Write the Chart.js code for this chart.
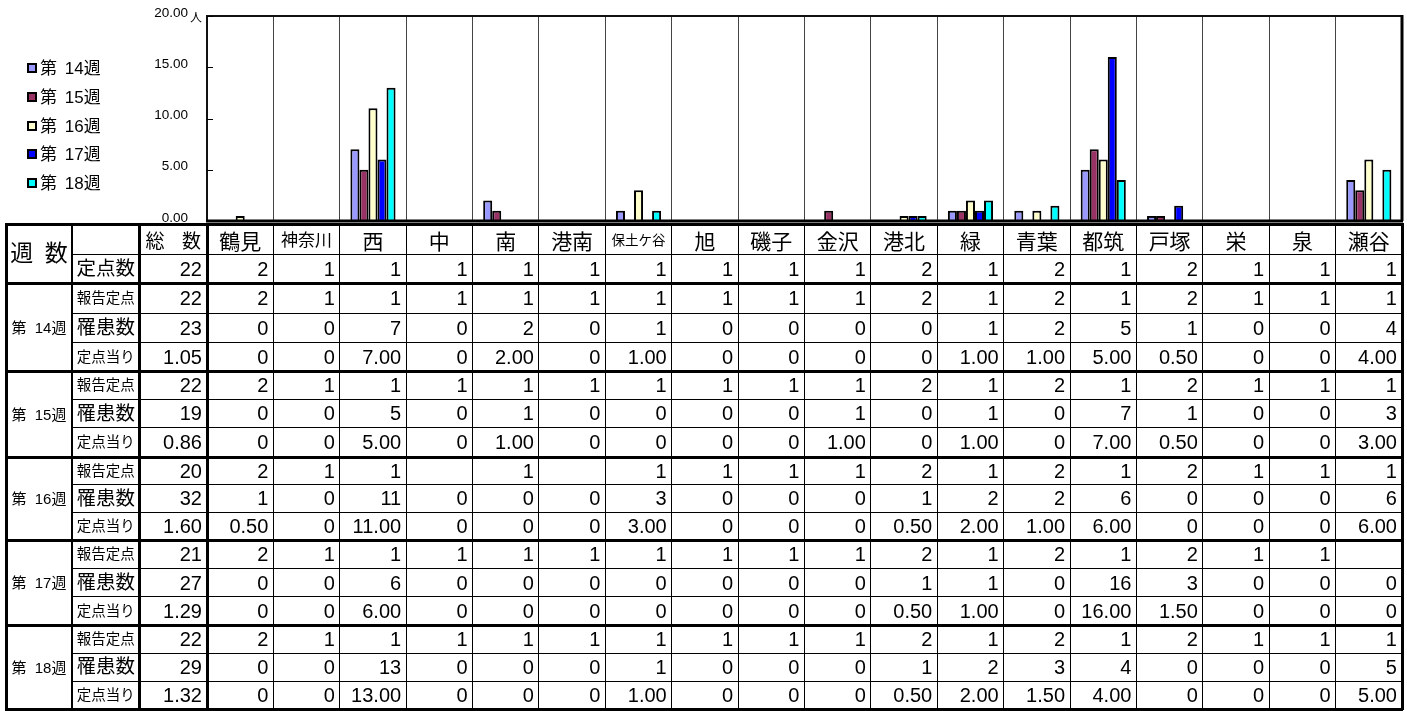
<!DOCTYPE html>
<html lang="ja">
<head>
<meta charset="utf-8">
<title>定点当り患者数</title>
<script src="https://cdn.jsdelivr.net/npm/chart.js@4.4.1/dist/chart.umd.min.js"></script>
<style>
  html, body { margin: 0; padding: 0; background: #fff; }
  body {
    width: 1407px; height: 711px; position: relative; overflow: hidden;
    font-family: "Liberation Sans", "Noto Sans CJK JP", sans-serif; color: #000;
  }
  #chart { position: absolute; left: 0; top: 0; }
  .cell {
    position: absolute; box-sizing: border-box; display: flex;
    align-items: center; justify-content: center; white-space: nowrap; line-height: 1;
  }
  .num { justify-content: flex-end; padding-right: 5px; font-size: 20px; font-family: "Liberation Sans", sans-serif; }
  .dist { font-size: 21px; padding-top: 4px; }
  .dist-m { font-size: 17px; padding-top: 3px; }
  .dist-s { font-size: 13.5px; padding-top: 3px; }
  .total-h { font-size: 19px; word-spacing: 12px; padding-top: 4px; }
  .weeks-h { font-size: 23px; word-spacing: 5px; }
  .row-l { font-size: 19.5px; }
  .row-s { font-size: 14.5px; }
  .week-l { font-size: 15px; word-spacing: 4px; }
  .line { position: absolute; background: #000; }
  .legend-item { position: absolute; left: 27px; height: 20px; display: flex; align-items: center; }
  .legend-box { width: 10px; height: 10px; box-sizing: border-box; border: 2px solid #000; margin-right: 3px; }
  .legend-text { font-size: 17px; word-spacing: 3px; line-height: 1; }
</style>
</head>
<body>
<canvas id="chart" width="1407" height="232"></canvas>
<div id="legend"></div>
<div id="table"></div>
<script>
// 区名（カテゴリ）
const districts = ['鶴見','神奈川','西','中','南','港南','保土ケ谷','旭','磯子','金沢','港北','緑','青葉','都筑','戸塚','栄','泉','瀬谷'];
// 週
const weeks = ['第 14週','第 15週','第 16週','第 17週','第 18週'];
const seriesColors = ['#9999FF','#993366','#FFFFCC','#0000FF','#00FFFF'];
// 縦軸目盛り
const yTicks = [0, 5, 10, 15, 20];

// 定点数
const siteTotal = 22;
const siteCount = [2,1,1,1,1,1,1,1,1,1,2,1,2,1,2,1,1,1];

// 総数列（報告定点・罹患数・定点当り）
const totalReport = [22, 22, 20, 21, 22];
const totalCases  = [23, 19, 32, 27, 29];
const totalRate   = [1.05, 0.86, 1.60, 1.29, 1.32];

// 第14週
const reportW14 = [2,1,1,1,1,1,1,1,1,1,2,1,2,1,2,1,1,1];
const casesW14  = [0,0,7,0,2,0,1,0,0,0,0,1,2,5,1,0,0,4];
const rateW14   = [0,0,7,0,2,0,1,0,0,0,0,1,1,5,0.5,0,0,4];
// 第15週
const reportW15 = [2,1,1,1,1,1,1,1,1,1,2,1,2,1,2,1,1,1];
const casesW15  = [0,0,5,0,1,0,0,0,0,1,0,1,0,7,1,0,0,3];
const rateW15   = [0,0,5,0,1,0,0,0,0,1,0,1,0,7,0.5,0,0,3];
// 第16週
const reportW16 = [2,1,1,null,1,null,1,1,1,1,2,1,2,1,2,1,1,1];
const casesW16  = [1,0,11,0,0,0,3,0,0,0,1,2,2,6,0,0,0,6];
const rateW16   = [0.5,0,11,0,0,0,3,0,0,0,0.5,2,1,6,0,0,0,6];
// 第17週
const reportW17 = [2,1,1,1,1,1,1,1,1,1,2,1,2,1,2,1,1,null];
const casesW17  = [0,0,6,0,0,0,0,0,0,0,1,1,0,16,3,0,0,0];
const rateW17   = [0,0,6,0,0,0,0,0,0,0,0.5,1,0,16,1.5,0,0,0];
// 第18週
const reportW18 = [2,1,1,1,1,1,1,1,1,1,2,1,2,1,2,1,1,1];
const casesW18  = [0,0,13,0,0,0,1,0,0,0,1,2,3,4,0,0,0,5];
const rateW18   = [0,0,13,0,0,0,1,0,0,0,0.5,2,1.5,4,0,0,0,5];

const reports = [reportW14, reportW15, reportW16, reportW17, reportW18];
const cases   = [casesW14, casesW15, casesW16, casesW17, casesW18];
const rates   = [rateW14, rateW15, rateW16, rateW17, rateW18];

// プロット枠・内向き目盛り・単位
const framePlugin = {
  id: 'frame',
  afterDraw(c) {
    const { ctx, chartArea: a } = c;
    ctx.save();
    ctx.strokeStyle = '#111';
    ctx.lineWidth = 2;
    ctx.beginPath();
    ctx.moveTo(a.left, a.bottom);
    ctx.lineTo(a.left, a.top);
    ctx.lineTo(a.right, a.top);
    ctx.stroke();
    ctx.strokeStyle = '#000';
    ctx.lineWidth = 3;
    ctx.beginPath();
    ctx.moveTo(a.right, a.top - 1);
    ctx.lineTo(a.right, a.bottom);
    ctx.stroke();
    ctx.beginPath();
    ctx.moveTo(a.left - 1, a.bottom);
    ctx.lineTo(a.right + 1, a.bottom);
    ctx.stroke();
    const ys = c.scales.y;
    ctx.lineWidth = 1;
    yTicks.forEach(v => {
      const py = Math.round(ys.getPixelForValue(v)) + 0.5;
      ctx.beginPath();
      ctx.moveTo(a.left, py);
      ctx.lineTo(a.left + 6, py);
      ctx.stroke();
    });
    ctx.fillStyle = '#000';
    ctx.font = '12px "Noto Sans CJK JP"';
    ctx.textAlign = 'left';
    ctx.textBaseline = 'middle';
    ctx.fillText('人', 190, a.top + 1);
    ctx.restore();
  }
};

const chart = new Chart(document.getElementById('chart'), {
  type: 'bar',
  data: {
    labels: districts,
    datasets: weeks.map((w, i) => ({
      label: w,
      data: rates[i],
      backgroundColor: seriesColors[i],
      borderColor: '#000',
      borderWidth: ctx => (ctx.raw > 0 ? 2 : 0),
      categoryPercentage: 0.68,
      barPercentage: 1
    }))
  },
  options: {
    responsive: false,
    animation: false,
    layout: { padding: { left: 0, right: 5, top: 16, bottom: 11 } },
    plugins: { legend: { display: false }, tooltip: { enabled: false } },
    scales: {
      x: {
        grid: { offset: true, color: '#444', lineWidth: 1, drawTicks: false },
        border: { display: false },
        ticks: { display: false },
        afterFit: s => { s.height = 0; s.paddingLeft = 0; s.paddingRight = 0; }
      },
      y: {
        min: 0, max: 20,
        grid: { display: false, drawTicks: false },
        border: { display: false },
        ticks: {
          stepSize: 5,
          callback: v => Number(v).toFixed(2),
          font: { family: 'Liberation Sans', size: 13.5 },
          color: '#000',
          padding: 19,
          labelOffset: -3
        },
        afterFit: s => { s.width = 207; s.paddingTop = 0; s.paddingBottom = 0; }
      }
    }
  },
  plugins: [framePlugin]
});

// 凡例
const legendEl = document.getElementById('legend');
const legendCenters = [68, 97, 126, 154, 183];
weeks.forEach((w, i) => {
  const item = document.createElement('div');
  item.className = 'legend-item';
  item.style.top = (legendCenters[i] - 10) + 'px';
  const box = document.createElement('div');
  box.className = 'legend-box';
  box.style.background = seriesColors[i];
  const txt = document.createElement('span');
  txt.className = 'legend-text';
  txt.textContent = w;
  item.appendChild(box);
  item.appendChild(txt);
  legendEl.appendChild(item);
});

// データ表（列は棒グラフのカテゴリ幅に合わせる）
const tableEl = document.getElementById('table');
const area = chart.chartArea;
const catW = (area.right - area.left) / districts.length;
const colEdges = [6, 72, 139.5];
for (let i = 0; i <= districts.length; i++) colEdges.push(area.left + i * catW);
const rowEdges = [224, 254.5, 283, 313, 342.5, 371.5, 399, 427.5, 457, 484.5, 512, 540, 568.5, 596.5, 625, 653, 681, 709];
const tableLeft = colEdges[0], tableRight = colEdges[colEdges.length - 1];
const tableTop = rowEdges[0], tableBottom = rowEdges[rowEdges.length - 1];

function addCell(c0, c1, r0, r1, text, cls) {
  const d = document.createElement('div');
  d.className = 'cell ' + cls;
  d.style.left = colEdges[c0] + 'px';
  d.style.top = rowEdges[r0] + 'px';
  d.style.width = (colEdges[c1] - colEdges[c0]) + 'px';
  d.style.height = (rowEdges[r1] - rowEdges[r0]) + 'px';
  d.textContent = text;
  tableEl.appendChild(d);
}
function hline(y, x0, x1, t) {
  const d = document.createElement('div');
  d.className = 'line';
  d.style.left = (x0 - 1) + 'px';
  d.style.width = (x1 - x0 + 2) + 'px';
  d.style.top = (y - t / 2) + 'px';
  d.style.height = t + 'px';
  tableEl.appendChild(d);
}
function vline(x, y0, y1, t) {
  const d = document.createElement('div');
  d.className = 'line';
  d.style.left = (x - t / 2) + 'px';
  d.style.width = t + 'px';
  d.style.top = (y0 - 1) + 'px';
  d.style.height = (y1 - y0 + 2) + 'px';
  tableEl.appendChild(d);
}
const fmtRate = v => (v == null ? '' : (v === 0 ? '0' : v.toFixed(2)));
const fmtInt = v => (v == null ? '' : String(v));

// 見出し
addCell(0, 1, 0, 2, '週 数', 'weeks-h');
addCell(2, 3, 0, 1, '総 数', 'total-h');
districts.forEach((d, i) => {
  const cls = d.length >= 4 ? 'dist-s' : (d.length === 3 ? 'dist-m' : 'dist');
  addCell(3 + i, 4 + i, 0, 1, d, cls);
});
addCell(1, 2, 1, 2, '定点数', 'row-l');
addCell(2, 3, 1, 2, String(siteTotal), 'num');
siteCount.forEach((v, i) => addCell(3 + i, 4 + i, 1, 2, fmtInt(v), 'num'));

// 週ごとの3行
weeks.forEach((w, k) => {
  const r = 2 + k * 3;
  addCell(0, 1, r, r + 3, w, 'week-l');
  addCell(1, 2, r, r + 1, '報告定点', 'row-s');
  addCell(1, 2, r + 1, r + 2, '罹患数', 'row-l');
  addCell(1, 2, r + 2, r + 3, '定点当り', 'row-s');
  addCell(2, 3, r, r + 1, fmtInt(totalReport[k]), 'num');
  addCell(2, 3, r + 1, r + 2, fmtInt(totalCases[k]), 'num');
  addCell(2, 3, r + 2, r + 3, totalRate[k].toFixed(2), 'num');
  districts.forEach((_, i) => {
    addCell(3 + i, 4 + i, r, r + 1, fmtInt(reports[k][i]), 'num');
    addCell(3 + i, 4 + i, r + 1, r + 2, fmtInt(cases[k][i]), 'num');
    addCell(3 + i, 4 + i, r + 2, r + 3, fmtRate(rates[k][i]), 'num');
  });
  // 週内の細線
  hline(rowEdges[r + 1], colEdges[1], tableRight, 1);
  hline(rowEdges[r + 2], colEdges[1], tableRight, 1);
});

// 罫線
hline(rowEdges[0], tableLeft, tableRight, 3);
hline(rowEdges[1], colEdges[1], tableRight, 1.5);
[2, 5, 8, 11, 14].forEach(r => hline(rowEdges[r], tableLeft, tableRight, 3));
hline(tableBottom, tableLeft, tableRight, 3);
vline(colEdges[0], tableTop, tableBottom, 3);
vline(colEdges[1], tableTop, tableBottom, 2.5);
vline(colEdges[2], tableTop, tableBottom, 3);
vline(colEdges[3], tableTop, tableBottom, 3);
for (let c = 4; c < colEdges.length - 1; c++) vline(colEdges[c], tableTop, tableBottom, 1);
vline(tableRight, tableTop, tableBottom, 3);
</script>
</body>
</html>
